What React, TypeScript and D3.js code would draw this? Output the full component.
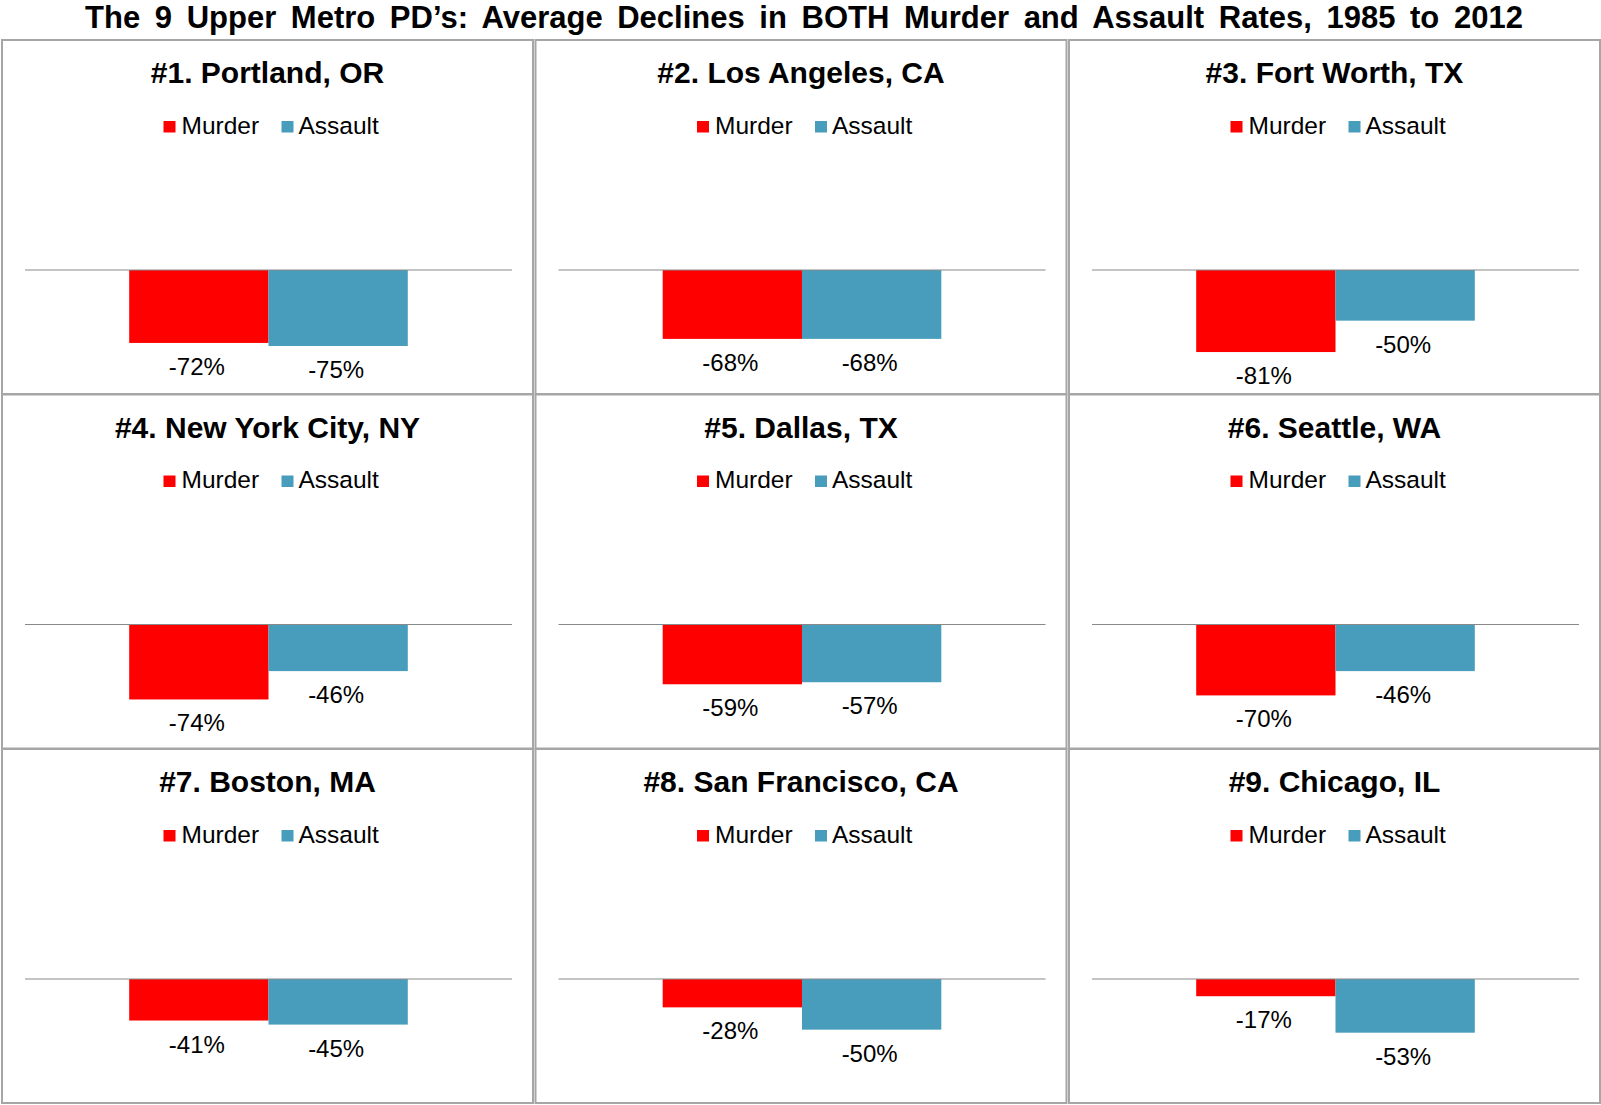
import * as d3 from 'd3';
import React, { useRef, useEffect } from 'react';

const cities = [
  '#1. Portland, OR',
  '#2. Los Angeles, CA',
  '#3. Fort Worth, TX',
  '#4. New York City, NY',
  '#5. Dallas, TX',
  '#6. Seattle, WA',
  '#7. Boston, MA',
  '#8. San Francisco, CA',
  '#9. Chicago, IL',
];
const series = ['Murder', 'Assault'];
const murder = [-72, -68, -81, -74, -59, -70, -41, -28, -17];
const assault = [-75, -68, -50, -46, -57, -46, -45, -50, -53];
const colors = ['#FF0000', '#479DBB'];

const FONT = "Arial, 'Liberation Sans', sans-serif";

function App() {
  const ref = useRef(null);

  useEffect(() => {
    const width = 1601;
    const height = 1105;
    const svg = d3.select(ref.current);
    svg.selectAll('*').remove();
    svg.attr('viewBox', `0 0 ${width} ${height}`);

    svg.append('rect').attr('width', width).attr('height', height).attr('fill', '#fff');

    svg.append('text')
      .attr('x', 804)
      .attr('y', 28.3)
      .attr('text-anchor', 'middle')
      .attr('font-family', FONT)
      .attr('font-weight', 'bold')
      .attr('font-size', 31)
      .attr('word-spacing', 6)
      .text('The 9 Upper Metro PD\u2019s: Average Declines in BOTH Murder and Assault Rates, 1985 to 2012');

    const panelW = 531;
    const panelH = 354;

    cities.forEach((city, i) => {
      const col = i % 3;
      const row = Math.floor(i / 3);
      const left = 2 + col * 533.5;
      const top = 40 + row * 354.5;
      const cx = left + panelW / 2;
      const g = svg.append('g');

      g.append('rect')
        .attr('x', left).attr('y', top)
        .attr('width', panelW).attr('height', panelH)
        .attr('fill', 'none')
        .attr('stroke', '#A6A6A6')
        .attr('stroke-width', 2);

      g.append('text')
        .attr('x', cx).attr('y', top + 43)
        .attr('text-anchor', 'middle')
        .attr('font-family', FONT)
        .attr('font-weight', 'bold')
        .attr('font-size', 30)
        .text(city);

      // legend
      const legendOffsets = [[-104, -86], [14, 31]];
      series.forEach((s, k) => {
        g.append('rect')
          .attr('x', cx + legendOffsets[k][0]).attr('y', top + 81)
          .attr('width', 12).attr('height', 11.5)
          .attr('fill', colors[k]);
        g.append('text')
          .attr('x', cx + legendOffsets[k][1]).attr('y', top + 93.5)
          .attr('font-family', FONT)
          .attr('font-size', 24.5)
          .text(s);
      });

      const zeroY = top + 230;
      const y = d3.scaleLinear().domain([-100, 100]).range([zeroY + 101.3, zeroY - 101.3]);
      const plotLeft = left + 23;
      const plotRight = left + panelW - 21;
      const xGroup = d3.scaleBand().domain(['g']).range([plotLeft, plotRight]).paddingOuter(0.374).paddingInner(0);
      const x = d3.scaleBand().domain(series).range([xGroup('g')!, xGroup('g')! + xGroup.bandwidth()]);

      const vals = [murder[i], assault[i]];
      series.forEach((s, k) => {
        const v = vals[k];
        g.append('rect')
          .attr('x', x(s)!)
          .attr('y', Math.min(y(v), y(0)))
          .attr('width', x.bandwidth())
          .attr('height', Math.abs(y(v) - y(0)))
          .attr('fill', colors[k]);
        g.append('text')
          .attr('x', x(s)! + x.bandwidth() / 2 - 2)
          .attr('y', y(v) + 32)
          .attr('text-anchor', 'middle')
          .attr('font-family', FONT)
          .attr('font-size', 24)
          .text(`${v}%`);
      });

      g.append('line')
        .attr('x1', plotLeft).attr('x2', plotRight)
        .attr('y1', y(0)).attr('y2', y(0))
        .attr('stroke', '#898989')
        .attr('stroke-width', 1.2);
    });
  }, []);

  return (
    <svg
      ref={ref}
      width={1601}
      height={1105}
      style={{ position: 'absolute', left: 0, top: 0, display: 'block' }}
    />
  );
}

export default App;
